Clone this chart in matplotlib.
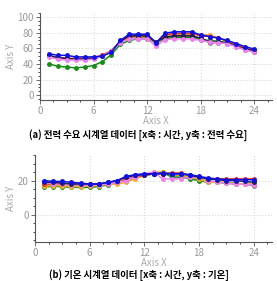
import matplotlib
matplotlib.use("Agg")
import matplotlib.pyplot as plt
import numpy as np

plt.rcParams['font.family'] = ['Noto Sans CJK KR', 'DejaVu Sans']

hours = list(range(1, 25))

# (a) power demand
pw_blue = [53, 51, 51, 49, 49, 49, 50, 55, 70, 78, 78, 78, 67, 79, 81, 81, 81, 77, 75, 73, 70, 66, 62, 59]
pw_green = [40, 37, 36, 35, 36, 38, 43, 52, 65, 70, 72, 72, 68, 72, 74, 74, 74, 71, 70, 69, 67, 63, 59, 55]
pw_pink = [49, 46, 45, 45, 45, 46, 50, 57, 67, 72, 72, 72, 63, 71, 72, 72, 72, 70, 68, 67, 66, 62, 58, 55]
pw_orange = [50, 47, 47, 47, 47, 48, 51, 57, 68, 75, 75, 75, 66, 76, 78, 78, 78, 77, 77, 73, 69, 64, 60, 57]
pw_red = [50, 48, 47, 47, 47, 48, 51, 57, 68, 75, 76, 76, 67, 77, 79, 79, 79, 76, 75, 73, 69, 64, 60, 57]
pw_black = [51, 48, 47, 46, 46, 47, 50, 56, 69, 76, 76, 76, 68, 74, 76, 76, 76, 73, 68, 68, 67, 63, 59, 57]
pw_grey = [50, 47, 46, 46, 46, 47, 50, 56, 68, 74, 74, 74, 66, 73, 75, 75, 75, 72, 67, 67, 66, 62, 58, 56]

# (b) temperature
tp_blue = [20, 19.5, 19.5, 19, 18.5, 18, 18, 19, 20, 22.5, 23.5, 24, 24, 24.5, 24, 24, 23.5, 22.5, 21.5, 21, 20.5, 20.5, 20.5, 20.5]
tp_green = [16.5, 16.5, 16.5, 16, 16, 16, 16.5, 17.5, 19, 20, 22, 23, 24, 25, 22, 22, 21, 20, 19, 19, 18.5, 18, 18, 17.5]
tp_orange = [17, 17, 17, 16.5, 16.5, 17, 17, 18, 18, 19, 21, 23, 25, 25, 24, 23, 22, 21, 19, 19, 19, 18, 18, 18]
tp_pink = [19, 18, 18, 17.5, 17.5, 17.5, 17.5, 18, 19, 20, 22, 24, 25, 21, 21, 21, 22, 22, 20, 19, 18.5, 18, 18, 17.5]
tp_red = [18, 18, 18, 18, 18, 18, 18, 18, 19, 21, 22, 23, 24, 24, 24.5, 24.5, 23, 22, 21, 21, 21, 21, 21, 21]
tp_grey = [18, 18, 17.5, 17.5, 17, 17, 17, 18, 19, 20, 22, 23, 24, 24, 23, 23, 22, 21, 20, 19, 19, 18.5, 18, 17]
tp_navy = [19, 19, 18.5, 18, 18, 18, 18, 19, 20, 22, 23, 23.5, 24, 24, 24, 24, 23, 22, 21, 20.5, 20, 20, 19.5, 19]

fig = plt.figure(figsize=(2.77, 2.81), dpi=100)
ax1 = fig.add_axes([40 / 277, 1 - 100 / 281, 232 / 277, 87 / 281])
ax2 = fig.add_axes([35 / 277, 1 - 242 / 281, 237 / 277, 87 / 281])

def style(ax, yticks, ylim, xlim):
    ax.set_xlim(*xlim)
    ax.set_ylim(*ylim)
    ax.set_xticks([0, 6, 12, 18, 24])
    ax.set_yticks(yticks)
    ax.minorticks_on()
    ax.grid(True, which='major', color='#d8d8d8', linestyle=':', linewidth=0.8)
    for s in ['top', 'right']:
        ax.spines[s].set_visible(False)
    for s in ['left', 'bottom']:
        ax.spines[s].set_color('#555555')
        ax.spines[s].set_linewidth(0.8)
    ax.tick_params(labelsize=7, colors='#555555', labelcolor='#999999', length=3, width=0.6, pad=1.5)
    ax.tick_params(which='minor', length=1.5, width=0.5)
    ax.set_xlabel('Axis X', fontsize=7, color='#aaaaaa', labelpad=0)
    ax.set_ylabel('Axis Y', fontsize=7, color='#aaaaaa', labelpad=1)

mk = dict(marker='o', markersize=2.5, linewidth=1.1)
ax1.plot(hours, pw_grey, color='#888888', **mk)
ax1.plot(hours, pw_green, color='#1a8a1a', **mk)
ax1.plot(hours, pw_orange, color='#f0a030', **mk)
ax1.plot(hours, pw_red, color='#e83030', **mk)
ax1.plot(hours, pw_black, color='#202040', **mk)
ax1.plot(hours, pw_pink, color='#ee82ee', **mk)
ax1.plot(hours, pw_blue, color='#1010e0', **mk)
style(ax1, [0, 20, 40, 60, 80, 100], (-6, 105), (0, 26))

ax2.plot(hours, tp_grey, color='#888888', **mk)
ax2.plot(hours, tp_green, color='#1a8a1a', **mk)
ax2.plot(hours, tp_orange, color='#f0b020', **mk)
ax2.plot(hours, tp_red, color='#e83030', **mk)
ax2.plot(hours, tp_pink, color='#ee82ee', **mk)
ax2.plot(hours, tp_navy, color='#202060', **mk)
ax2.plot(hours, tp_blue, color='#1010e0', **mk)
style(ax2, [0, 20], (-16, 35), (0, 26))

fig.text(0.5, 1 - 135 / 281, '(a) 전력 수요 시계열 데이터 [x축 : 시간, y축 : 전력 수요]',
         ha='center', va='center', fontsize=6.8, fontweight='bold')
fig.text(0.5, 1 - 275 / 281, '(b) 기온 시계열 데이터 [x축 : 시간, y축 : 기온]',
         ha='center', va='center', fontsize=6.8, fontweight='bold')

fig.savefig('out.png', dpi=100)
